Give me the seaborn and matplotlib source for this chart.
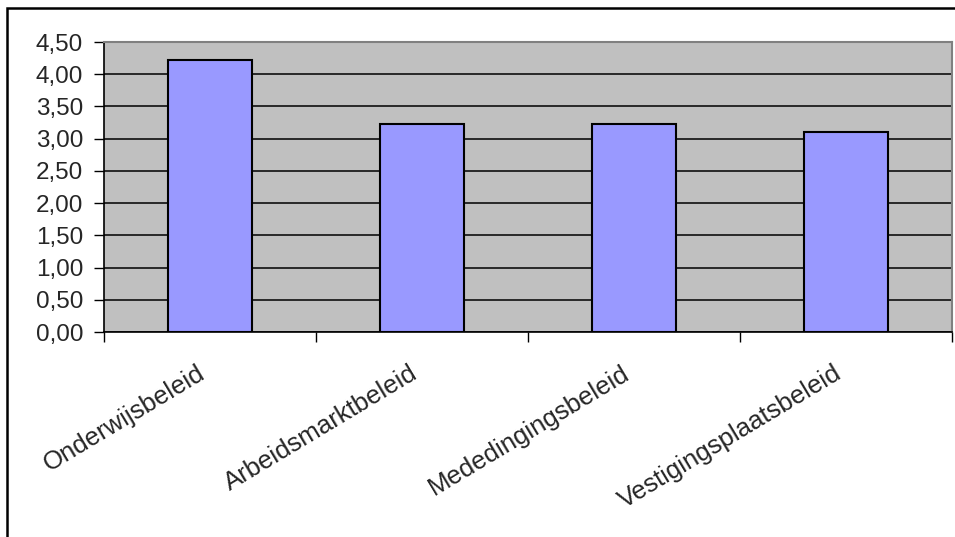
import matplotlib
matplotlib.use("Agg")
import matplotlib.pyplot as plt
import matplotlib.patches as mpatches
import matplotlib.transforms as mtransforms
from matplotlib.ticker import FuncFormatter, MultipleLocator, FixedLocator
import seaborn as sns
import pandas as pd

# data
categories = ["Onderwijsbeleid", "Arbeidsmarktbeleid", "Mededingingsbeleid", "Vestigingsplaatsbeleid"]
scores = [4.22, 3.22, 3.22, 3.10]

sns.set_style("white")
plt.rcParams["font.family"] = ["Liberation Sans", "DejaVu Sans"]

df = pd.DataFrame({"beleid": categories, "score": scores})

fig = plt.figure(figsize=(9.55, 5.37), dpi=100)
ax = fig.add_axes([104 / 955, 1 - 332 / 537, (952 - 104) / 955, (332 - 42) / 537])

sns.barplot(data=df, x="beleid", y="score", color="#9999FF", saturation=1,
            edgecolor="black", linewidth=1.5, width=0.4, ax=ax, zorder=3)

ax.set_facecolor("#C0C0C0")
ax.set_xlim(-0.5, len(categories) - 0.5)
ax.set_ylim(0, 4.5)
ax.yaxis.set_major_locator(MultipleLocator(0.5))
ax.yaxis.set_major_formatter(FuncFormatter(lambda v, _: f"{v:.2f}".replace(".", ",")))
ax.yaxis.grid(True, color="black", linewidth=1.1, zorder=1)
ax.set_axisbelow(True)
ax.set_xlabel("")
ax.set_ylabel("")

# category boundaries carry the tick marks, centers carry the labels
ax.xaxis.set_minor_locator(FixedLocator([i - 0.5 for i in range(len(categories) + 1)]))
ax.tick_params(axis="x", which="minor", length=7, width=1, color="black", direction="out", bottom=True)
ax.tick_params(axis="x", which="major", length=0, pad=21, labelsize=18.5)
ax.tick_params(axis="y", length=7, width=1, color="black", direction="out", left=True, pad=8, labelsize=17.5)
shift = mtransforms.ScaledTranslation(-13 / 100, 0, fig.dpi_scale_trans)
for lbl in ax.get_xticklabels():
    lbl.set_rotation(31)
    lbl.set_rotation_mode("anchor")
    lbl.set_ha("right")
    lbl.set_va("top")
    lbl.set_transform(lbl.get_transform() + shift)

for side in ["left", "bottom"]:
    ax.spines[side].set_color("black")
    ax.spines[side].set_linewidth(1.2)
for side in ["top", "right"]:
    ax.spines[side].set_visible(True)
    ax.spines[side].set_color("#808080")
    ax.spines[side].set_linewidth(1.5)

# outer chart border (open at right/bottom, as cropped in the reference)
fig.add_artist(mpatches.Rectangle((7 / 955, -0.1), 1.2, 1.1 - 8 / 537, transform=fig.transFigure,
                                  fill=False, edgecolor="black", linewidth=1.8))

fig.savefig("out.png", dpi=100)
